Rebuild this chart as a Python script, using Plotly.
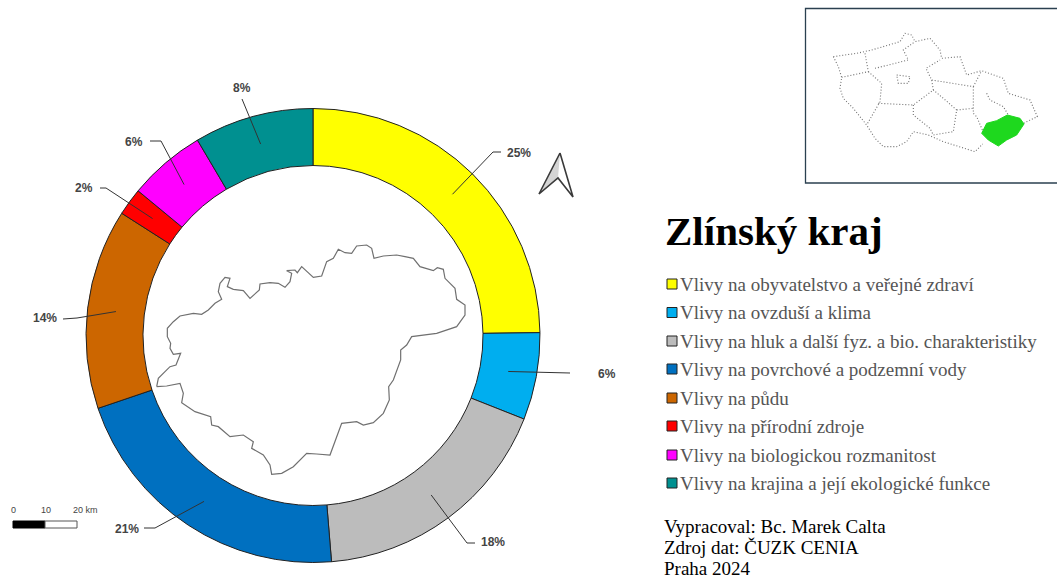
import math
import plotly.graph_objects as go

W, H = 1057, 578

categories = [
    "Vlivy na obyvatelstvo a veřejné zdraví",
    "Vlivy na ovzduší a klima",
    "Vlivy na hluk a další fyz. a bio. charakteristiky",
    "Vlivy na povrchové a podzemní vody",
    "Vlivy na půdu",
    "Vlivy na přírodní zdroje",
    "Vlivy na biologickou rozmanitost",
    "Vlivy na krajina a její ekologické funkce",
]
slice_values = [24.8, 6.2, 17.7, 21.1, 14.25, 1.95, 5.5, 8.5]
labels_pct = ["25%", "6%", "18%", "21%", "14%", "2%", "6%", "8%"]
colors = ["#ffff00", "#00aeef", "#bcbcbc", "#0070c0", "#cc6600", "#ff0000", "#ff00ff", "#009090"]

# label placement around the ring: leader elbow, leader end, label centre
leader_elbow = [(493, 152), (570, 373), (467, 543), (155, 528), (77, 318), (106, 188), (161, 141), (242, 99)]
leader_end = [(501, 152), (570, 373), (475, 543), (144, 528), (63, 319), (100, 188), (150, 141), (242, 99)]
label_pos = [(519, 153), (607, 374), (493, 542), (127, 529), (45, 318), (84, 188), (134, 142), (242, 88)]

region_zoom = [(20,470),(25,445),(45,425),(60,410),(78,405),(92,370),(70,373),(60,355),(62,340),(52,320),(52,295),
    (70,275),(90,258),(110,255),(130,250),(155,253),(175,240),(195,220),(215,208),(205,185),(210,160),(225,142),
    (240,145),(232,170),(250,178),(280,182),(300,205),(328,180),(330,162),(360,158),(385,160),(405,172),(420,155),
    (425,130),(410,122),(435,120),(442,128),(455,110),(475,130),(490,142),(515,138),(530,95),(550,85),(565,58),
    (585,68),(605,70),(620,48),(650,45),(665,55),(672,85),(700,78),(740,75),(765,80),(790,85),(810,110),(850,122),
    (862,113),(880,118),(885,145),(915,175),(920,208),(945,225),(945,255),(920,290),(860,310),(785,320),(770,345),
    (752,360),(752,390),(738,425),(730,450),(716,470),(718,510),(700,550),(670,578),(640,585),(620,575),(575,580),
    (560,620),(540,675),(500,672),(470,670),(430,710),(395,730),(365,733),(360,705),(340,675),(305,655),(310,635),
    (280,615),(240,620),(205,590),(185,585),(182,560),(135,545),(95,518),(100,490),(90,460),(50,468),(20,470)]

country_lines = [
    [(100,170),(115,200),(125,232),(120,265),(130,295),(160,325),(180,350),(200,375),(225,415),(250,440),(290,440),
     (320,425),(340,395),(385,405),(430,425),(480,440),(525,455),(548,432)],
    [(100,170),(170,160),(215,150),(300,125),(315,100),(335,105),(345,125),(390,115),(420,150),(425,175),(480,170),
     (500,225),(545,212),(610,235),(625,280),(690,300),(712,350),(670,370)],
    [(195,160),(205,215),(125,232)],
    [(205,215),(245,250),(240,305),(200,375)],
    [(235,310),(340,315),(400,270),(395,240),(378,205),(420,180)],
    [(225,205),(325,180),(310,150),(345,125)],
    [(395,240),(520,260),(520,340),(530,350),(548,392)],
    [(340,315),(340,345),(390,385),(400,405),(460,395),(470,330),(430,295),(400,270)],
    [(520,260),(545,212)],
    [(470,330),(520,325)],
    [(560,280),(570,300),(610,320),(625,345)],
    [(290,225),(330,230),(325,250),(295,250),(290,225)],
]
green_zoom = [(545,400),(560,370),(590,362),(622,345),(660,355),(672,372),(650,405),(620,420),(595,438),(565,420),(545,400)]

def mapx(p): return 150 + p[0] / 3
def mapy(p): return 230 + p[1] / 3
def insx(p): return 800 + p[0] / 3
def insy(p): return p[1] / 3

fig = go.Figure()

# Zlin region outline
fig.add_trace(go.Scatter(x=[mapx(p) for p in region_zoom], y=[mapy(p) for p in region_zoom], mode="lines",
                         line=dict(color="#707070", width=1.2), hoverinfo="skip", showlegend=False))

# inset map
for seg_pts in country_lines:
    fig.add_trace(go.Scatter(x=[insx(p) for p in seg_pts], y=[insy(p) for p in seg_pts], mode="lines",
                             line=dict(color="#707070", width=1.1, dash="1px 2px"), hoverinfo="skip", showlegend=False))
fig.add_trace(go.Scatter(x=[insx(p) for p in green_zoom], y=[insy(p) for p in green_zoom], mode="lines",
                         fill="toself", fillcolor="#1ed81e", line=dict(color="#1ed81e", width=1),
                         hoverinfo="skip", showlegend=False))

# north arrow
fig.add_trace(go.Scatter(x=[560, 539, 558, 560], y=[153, 194, 178, 153], mode="lines", fill="toself",
                         fillcolor="#d4d4d4", line=dict(color="#d4d4d4", width=0), hoverinfo="skip", showlegend=False))
fig.add_trace(go.Scatter(x=[560, 539, 558, 573, 560], y=[153, 194, 178, 197, 153], mode="lines",
                         line=dict(color="#3a3a3a", width=1.6), hoverinfo="skip", showlegend=False))

# donut
cx, cy, R, r = 313, 335.5, 227, 170
fig.add_trace(go.Pie(labels=categories, values=slice_values, sort=False, direction="clockwise", rotation=0,
                     hole=r / R, textinfo="none", hoverinfo="label+percent", showlegend=False,
                     marker=dict(colors=colors, line=dict(color="#222222", width=1)),
                     domain=dict(x=[(cx - R) / W, (cx + R) / W], y=[1 - (cy + R) / H, 1 - (cy - R) / H])))

shapes = []
annotations = []

def seg(x0, y0, x1, y1, color="#333333", width=1):
    shapes.append(dict(type="line", xref="x", yref="y", x0=x0, y0=y0, x1=x1, y1=y1,
                       line=dict(color=color, width=width), layer="above"))

# leaders and percentage labels
total = sum(slice_values)
acc = 0.0
mid_r = (R + r) / 2
for v, lab, elbow, end, pos in zip(slice_values, labels_pct, leader_elbow, leader_end, label_pos):
    a = 2 * math.pi * (acc + v / 2) / total
    acc += v
    sx, sy = cx + mid_r * math.sin(a), cy - mid_r * math.cos(a)
    seg(sx, sy, elbow[0], elbow[1])
    if end != elbow:
        seg(elbow[0], elbow[1], end[0], end[1])
    annotations.append(dict(x=pos[0], y=pos[1], xref="x", yref="y", text=f"<b>{lab}</b>", showarrow=False,
                            font=dict(family="Liberation Sans", size=12, color="#444444"),
                            xanchor="center", yanchor="middle"))

# inset frame
shapes.append(dict(type="rect", xref="x", yref="y", x0=805.5, y0=8.5, x1=1070, y1=183,
                   line=dict(color="#2b4050", width=1.3), layer="above"))

# scale bar
shapes.append(dict(type="rect", xref="x", yref="y", x0=13, y0=521, x1=45, y1=528,
                   fillcolor="#000000", line=dict(color="#000000", width=1), layer="above"))
shapes.append(dict(type="rect", xref="x", yref="y", x0=45, y0=521, x1=77, y1=528,
                   fillcolor="#ffffff", line=dict(color="#555555", width=1), layer="above"))
for x, t in [(13, "0"), (46, "10"), (85, "20 km")]:
    annotations.append(dict(x=x, y=510, xref="x", yref="y", text=t, showarrow=False,
                            font=dict(family="Liberation Sans", size=9, color="#444444"),
                            xanchor="center", yanchor="middle"))

# title
annotations.append(dict(x=663, y=231, xref="x", yref="y", text="<b>Zlínský kraj</b>", showarrow=False,
                        font=dict(family="Liberation Serif", size=41, color="#000000"),
                        xanchor="left", yanchor="middle"))

# legend
legend_y = [284, 312.5, 341, 369, 398, 426, 455, 483]
for c, col, y in zip(categories, colors, legend_y):
    shapes.append(dict(type="rect", xref="x", yref="y", x0=667, y0=y - 5, x1=677, y1=y + 5,
                       fillcolor=col, line=dict(color="#222222", width=1), layer="above"))
    annotations.append(dict(x=677.5, y=y, xref="x", yref="y", text=c, showarrow=False,
                            font=dict(family="Liberation Serif", size=19, color="#555555"),
                            xanchor="left", yanchor="middle"))

# credits
for t, y in [("Vypracoval: Bc. Marek Calta", 526), ("Zdroj dat: ČUZK CENIA", 547), ("Praha 2024", 568)]:
    annotations.append(dict(x=662, y=y, xref="x", yref="y", text=t, showarrow=False,
                            font=dict(family="Liberation Serif", size=19, color="#000000"),
                            xanchor="left", yanchor="middle"))

fig.update_layout(width=W, height=H, margin=dict(l=0, r=0, t=0, b=0), paper_bgcolor="white", plot_bgcolor="white",
                  showlegend=False, shapes=shapes, annotations=annotations,
                  xaxis=dict(range=[0, W], visible=False, domain=[0, 1], fixedrange=True),
                  yaxis=dict(range=[H, 0], visible=False, domain=[0, 1], fixedrange=True))
fig.write_html("out.html", config=dict(displayModeBar=False),
               post_script="document.body.style.margin='0';document.documentElement.style.overflow='hidden';")
